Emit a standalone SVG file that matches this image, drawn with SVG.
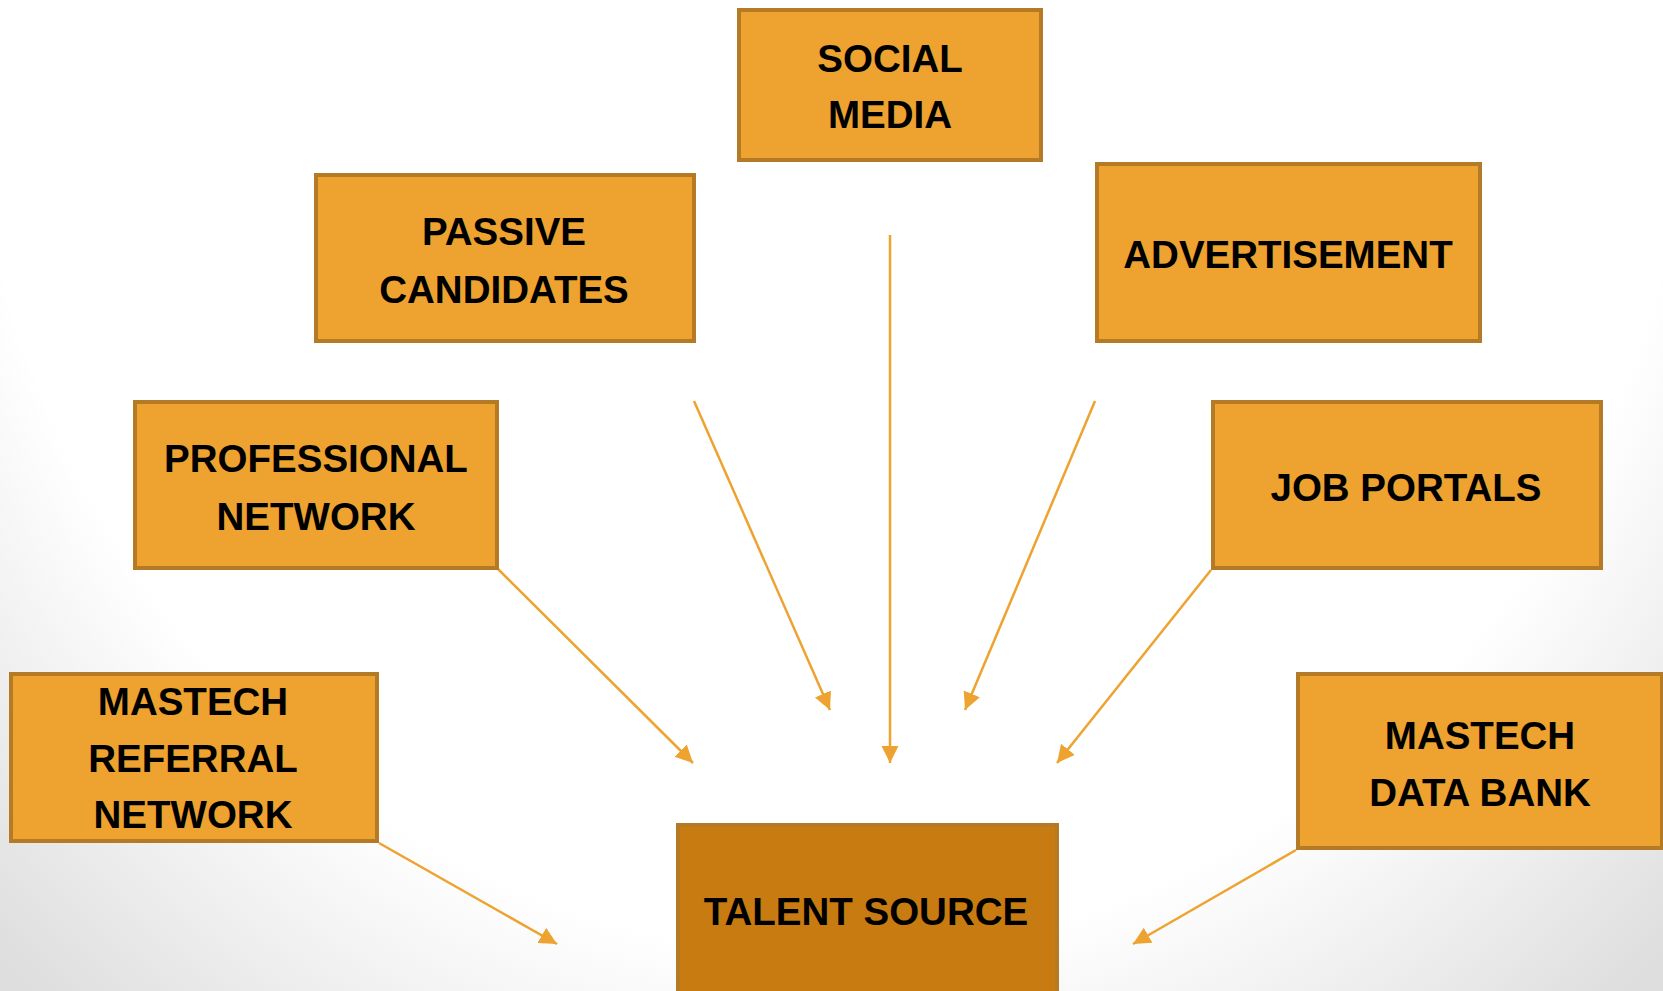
<svg xmlns="http://www.w3.org/2000/svg" width="1663" height="991" viewBox="0 0 1663 991">
<defs>
<radialGradient id="bg" gradientUnits="userSpaceOnUse" cx="831" cy="0" r="1200" gradientTransform="translate(831 0) scale(1 1.1) translate(-831 0)">
<stop offset="0.72" stop-color="#ffffff"/>
<stop offset="1" stop-color="#dedede"/>
</radialGradient>
<marker id="ah" markerWidth="8" markerHeight="8" refX="7" refY="3.5" orient="auto" markerUnits="strokeWidth">
<path d="M0,0 L7,3.5 L0,7 Z" fill="#EEA22F"/>
</marker>
<style>
.box{fill:#EEA22F;stroke:#B47A25;stroke-width:4}
.dark{fill:#C87B10;stroke:#B47A25;stroke-width:4}
.t{font-family:"Liberation Sans",Arial,sans-serif;font-weight:bold;font-size:38.5px;fill:#000;text-anchor:middle}
.c{stroke:#EEA22F;stroke-width:2.5;fill:none;marker-end:url(#ah)}
</style>
</defs>
<rect x="0" y="0" width="1663" height="991" fill="url(#bg)"/>
<g id="connectors">
<line class="c" x1="890" y1="235" x2="890" y2="763"/>
<line class="c" x1="694" y1="401" x2="830" y2="710"/>
<line class="c" x1="1095" y1="401" x2="965" y2="710"/>
<line class="c" x1="497" y1="568" x2="693" y2="763"/>
<line class="c" x1="1211" y1="570" x2="1057" y2="763"/>
<line class="c" x1="379" y1="843" x2="557" y2="944"/>
<line class="c" x1="1296" y1="850" x2="1133" y2="944"/>
</g>
<g id="social-media">
<rect class="box" x="739" y="10" width="302" height="150"/>
<text class="t" x="890" y="72">SOCIAL</text>
<text class="t" x="890" y="128">MEDIA</text>
</g>
<g id="passive-candidates">
<rect class="box" x="316" y="175" width="378" height="166"/>
<text class="t" x="504" y="245">PASSIVE</text>
<text class="t" x="504" y="303">CANDIDATES</text>
</g>
<g id="advertisement">
<rect class="box" x="1097" y="164" width="383" height="177"/>
<text class="t" x="1288" y="268">ADVERTISEMENT</text>
</g>
<g id="professional-network">
<rect class="box" x="135" y="402" width="362" height="166"/>
<text class="t" x="316" y="472">PROFESSIONAL</text>
<text class="t" x="316" y="530">NETWORK</text>
</g>
<g id="job-portals">
<rect class="box" x="1213" y="402" width="388" height="166"/>
<text class="t" x="1406" y="501">JOB PORTALS</text>
</g>
<g id="mastech-referral-network">
<rect class="box" x="11" y="674" width="366" height="167"/>
<text class="t" x="193" y="715">MASTECH</text>
<text class="t" x="193" y="772">REFERRAL</text>
<text class="t" x="193" y="828">NETWORK</text>
</g>
<g id="mastech-data-bank">
<rect class="box" x="1298" y="674" width="364" height="174"/>
<text class="t" x="1480" y="749">MASTECH</text>
<text class="t" x="1480" y="806">DATA BANK</text>
</g>
<g id="talent-source">
<rect class="dark" x="678" y="825" width="379" height="180"/>
<text class="t" x="866" y="925">TALENT SOURCE</text>
</g>
</svg>
